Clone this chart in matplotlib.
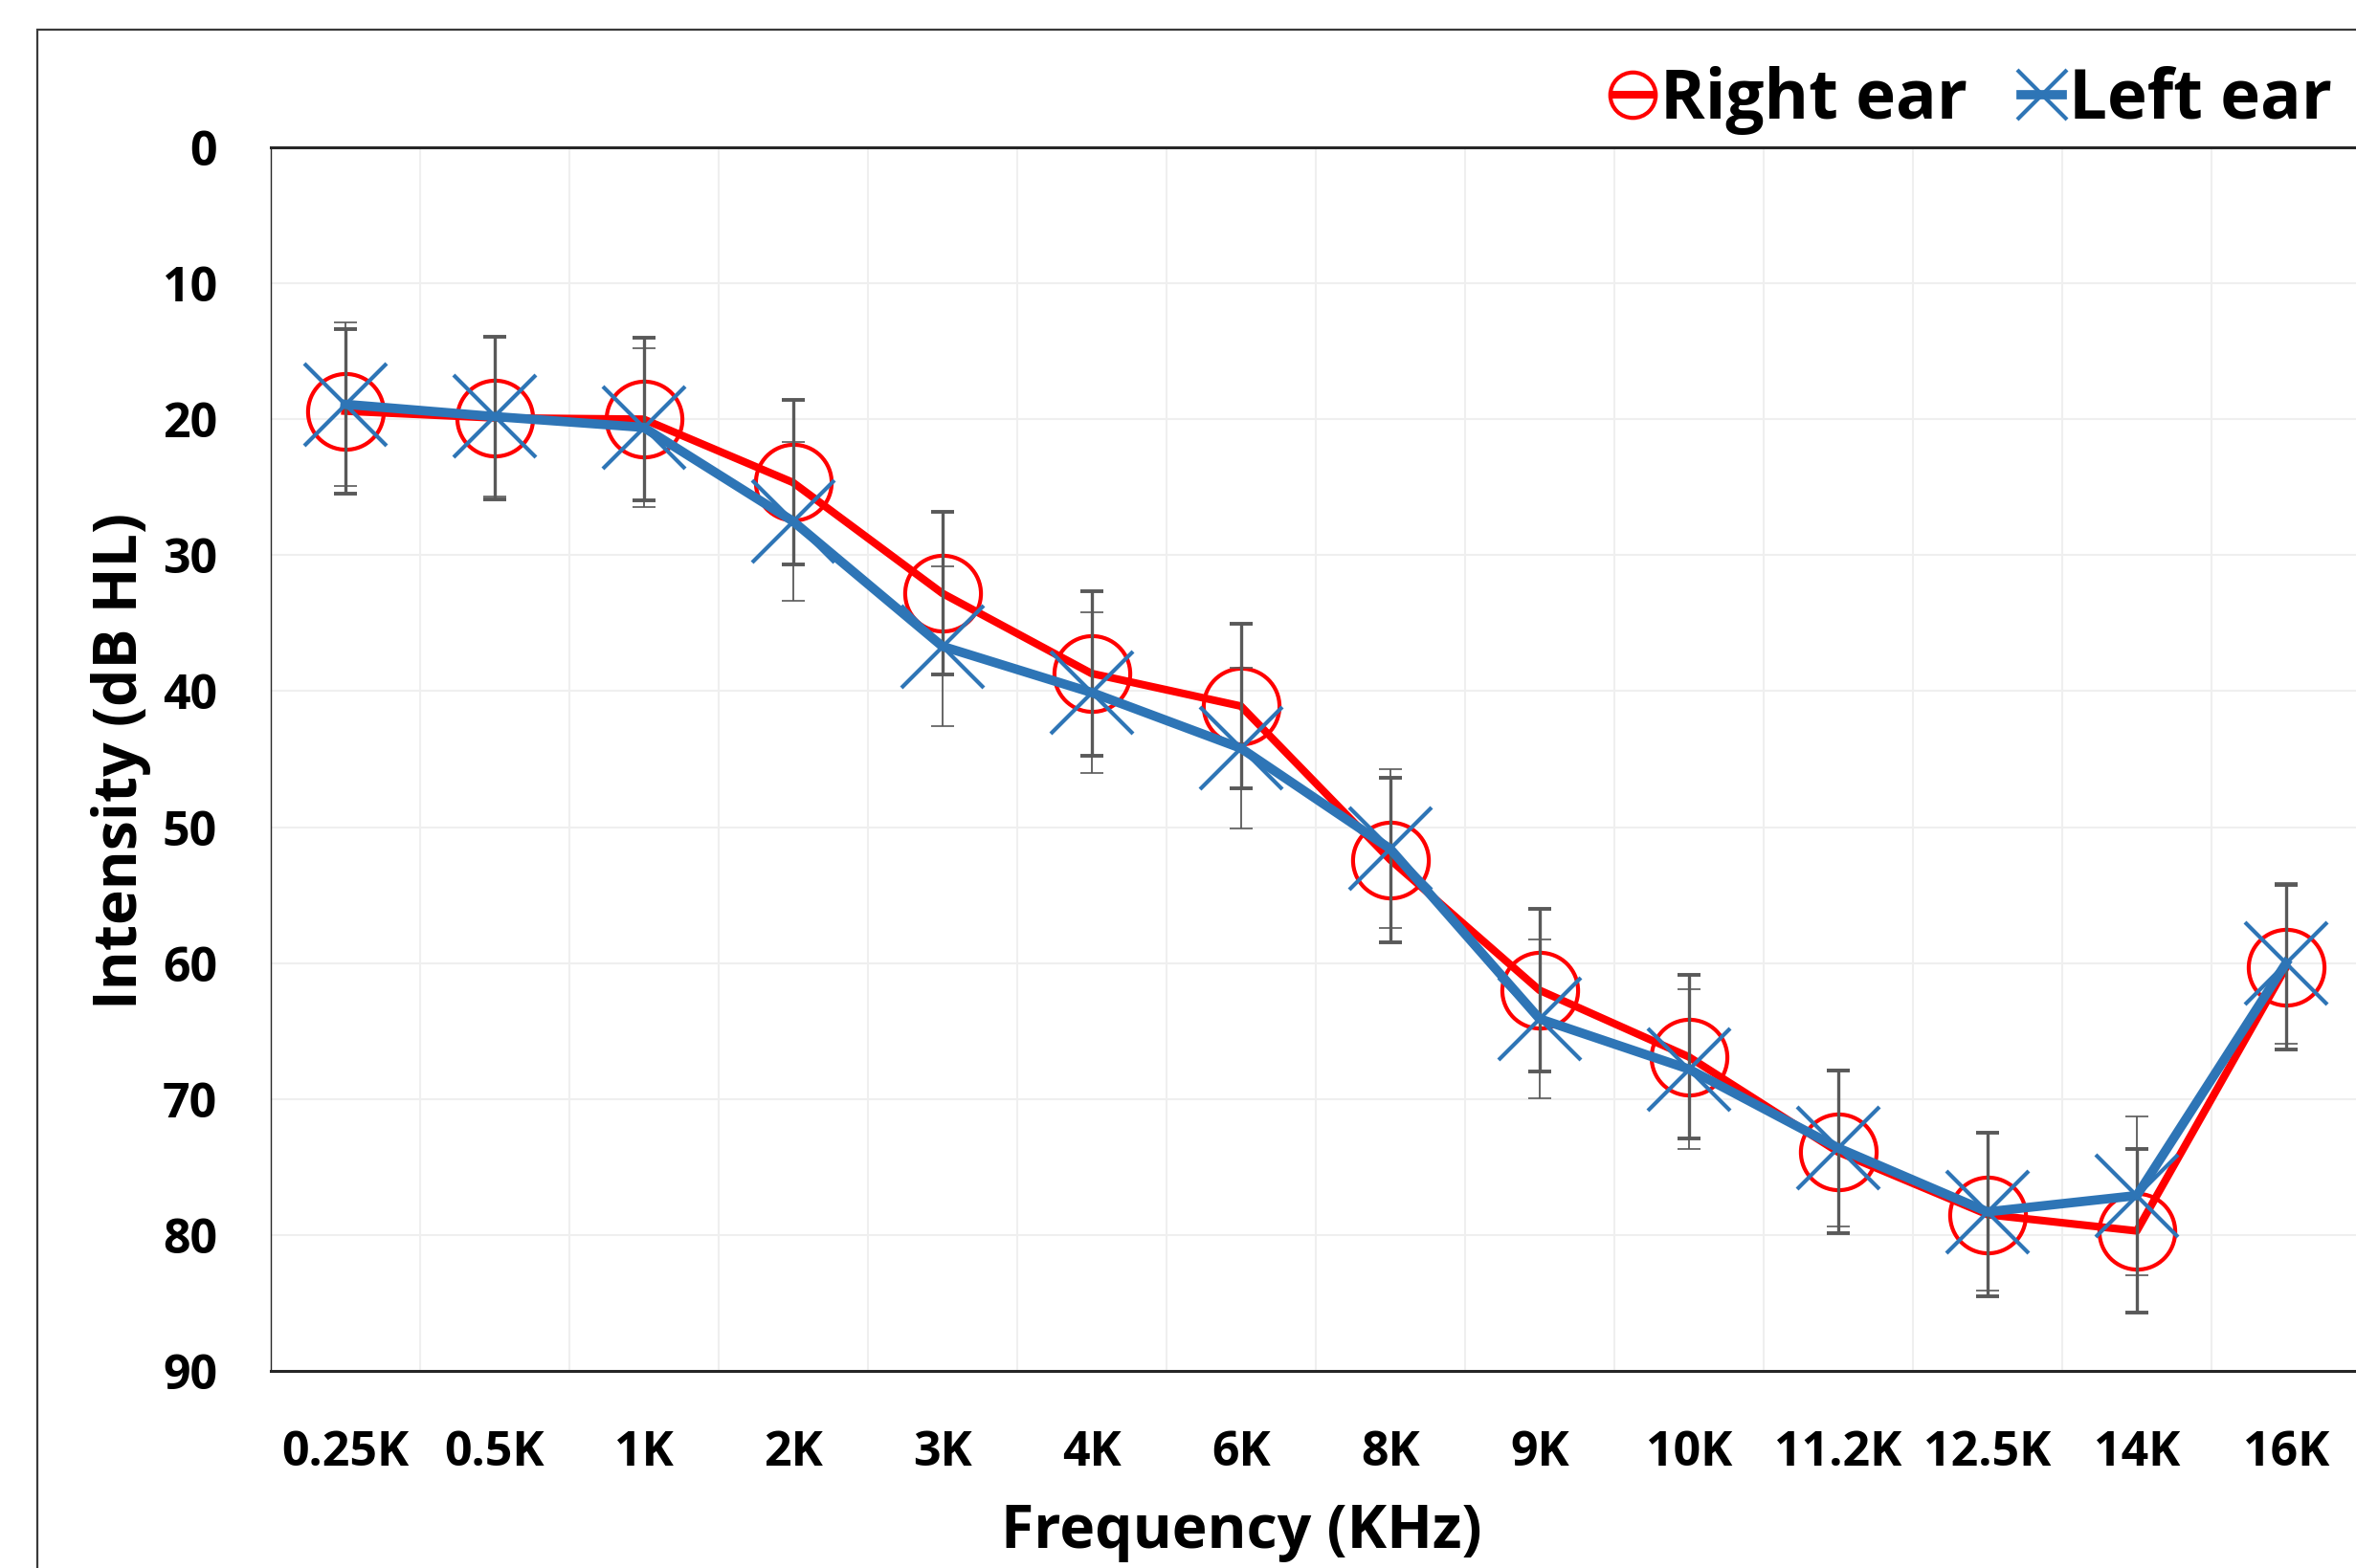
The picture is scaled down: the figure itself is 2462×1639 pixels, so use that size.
import matplotlib

matplotlib.use("Agg")

import matplotlib.pyplot as plt
import numpy as np
from matplotlib.patches import Rectangle

# Audiogram values (dB HL)
freq_labels = ["0.25K", "0.5K", "1K", "2K", "3K", "4K", "6K", "8K",
               "9K", "10K", "11.2K", "12.5K", "14K", "16K"]
right_ear = [19.4, 19.9, 20.0, 24.65, 32.8, 38.7, 41.1, 52.4, 62.0, 66.9, 73.9, 78.5, 79.7, 60.3]
right_sd = [6.05, 6.0, 6.0, 6.05, 6.0, 6.05, 6.05, 6.05, 6.0, 6.0, 6.0, 6.0, 6.0, 6.05]
left_ear = [18.9, 19.8, 20.6, 27.5, 36.7, 40.1, 44.2, 51.6, 64.1, 67.8, 73.6, 78.3, 77.1, 60.0]
left_sd = [6.0, 5.9, 5.85, 5.85, 5.9, 5.9, 5.9, 5.85, 5.85, 5.9, 5.8, 5.8, 5.85, 5.9]
y_ticks = [0, 10, 20, 30, 40, 50, 60, 70, 80, 90]

RED = "#FF0000"
BLUE = "#2E75B6"
ERR = "#595959"
FONT = "Open Sans"

W, H = 2462, 1639
fig = plt.figure(figsize=(W / 100, H / 100), dpi=100)
fig.patch.set_facecolor("white")

# plot area in pixel coordinates of the full image
left_px, right_px, top_px, bottom_px = 282.5, 2467, 154, 1433
ax = fig.add_axes([left_px / W, 1 - bottom_px / H,
                   (right_px - left_px) / W, (bottom_px - top_px) / H])

x = np.arange(len(freq_labels))

# right ear: line + circles, then error bars drawn over it
ax.plot(x, right_ear, color=RED, lw=5.8, marker="o", ms=57, mfc="none",
        mec=RED, mew=3, label="Right ear", zorder=3)
ax.errorbar(x, right_ear, yerr=right_sd, fmt="none", ecolor=ERR,
            elinewidth=2.4, capsize=8.5, capthick=2.8, zorder=4)
ax.errorbar(x, left_ear, yerr=left_sd, fmt="none", ecolor=ERR,
            elinewidth=1.3, capsize=8.5, capthick=1.2, zorder=4)
ax.plot(x, left_ear, color=BLUE, lw=7, marker="x", ms=62, mec=BLUE,
        mew=3, label="Left ear", zorder=5)

# axes
ax.set_xlim(-0.5, len(freq_labels) - 0.5)
ax.set_ylim(90, 0)
ax.set_xticks(x)
ax.set_xticklabels(freq_labels)
ax.set_xticks(np.arange(-0.5, len(freq_labels), 1), minor=True)
ax.set_yticks(y_ticks)
ax.tick_params(axis="both", which="both", length=0)
ax.tick_params(axis="x", pad=44)
ax.tick_params(axis="y", pad=40)
for lab in ax.get_xticklabels() + ax.get_yticklabels():
    lab.set_fontfamily(FONT)
    lab.set_fontweight("bold")
    lab.set_fontsize(36)

ax.grid(True, axis="y", which="major", color="#EFEFEF", lw=1.5, zorder=0)
ax.grid(True, axis="x", which="minor", color="#EFEFEF", lw=1.5, zorder=0)
ax.grid(False, axis="x", which="major")
ax.set_axisbelow(True)

for side in ["top", "bottom"]:
    ax.spines[side].set_linewidth(2.2)
    ax.spines[side].set_color("#262626")
ax.spines["left"].set_linewidth(1.0)
ax.spines["left"].set_color("#262626")
ax.spines["right"].set_visible(False)

# axis titles
fig.text(1297 / W, 1 - 1618 / H, "Frequency (KHz)", ha="center", va="baseline",
         fontsize=45, fontweight="bold", family=FONT)
fig.text(143 / W, 1 - 795 / H, "Intensity (dB HL)", ha="center", va="baseline",
         rotation=90, rotation_mode="anchor", fontsize=45, fontweight="bold", family=FONT)

# legend
handles, labels = ax.get_legend_handles_labels()
fig.legend(handles, labels, loc="center right", bbox_to_anchor=(2437 / W, 1 - 105 / H),
           ncol=2, frameon=False, borderaxespad=0, borderpad=0,
           handlelength=0.6, handletextpad=0.1, columnspacing=0.8, markerscale=0.6,
           prop={"family": FONT, "weight": "bold", "size": 51})

# chart area border (cut off on the right and bottom)
fig.add_artist(Rectangle((39 / W, -0.1), 2, 1 - 31 / H + 0.1, transform=fig.transFigure,
                         fill=False, ec="#3A3A3A", lw=1.6))

plt.savefig("out.png", dpi=100, facecolor="white")
plt.close(fig)
